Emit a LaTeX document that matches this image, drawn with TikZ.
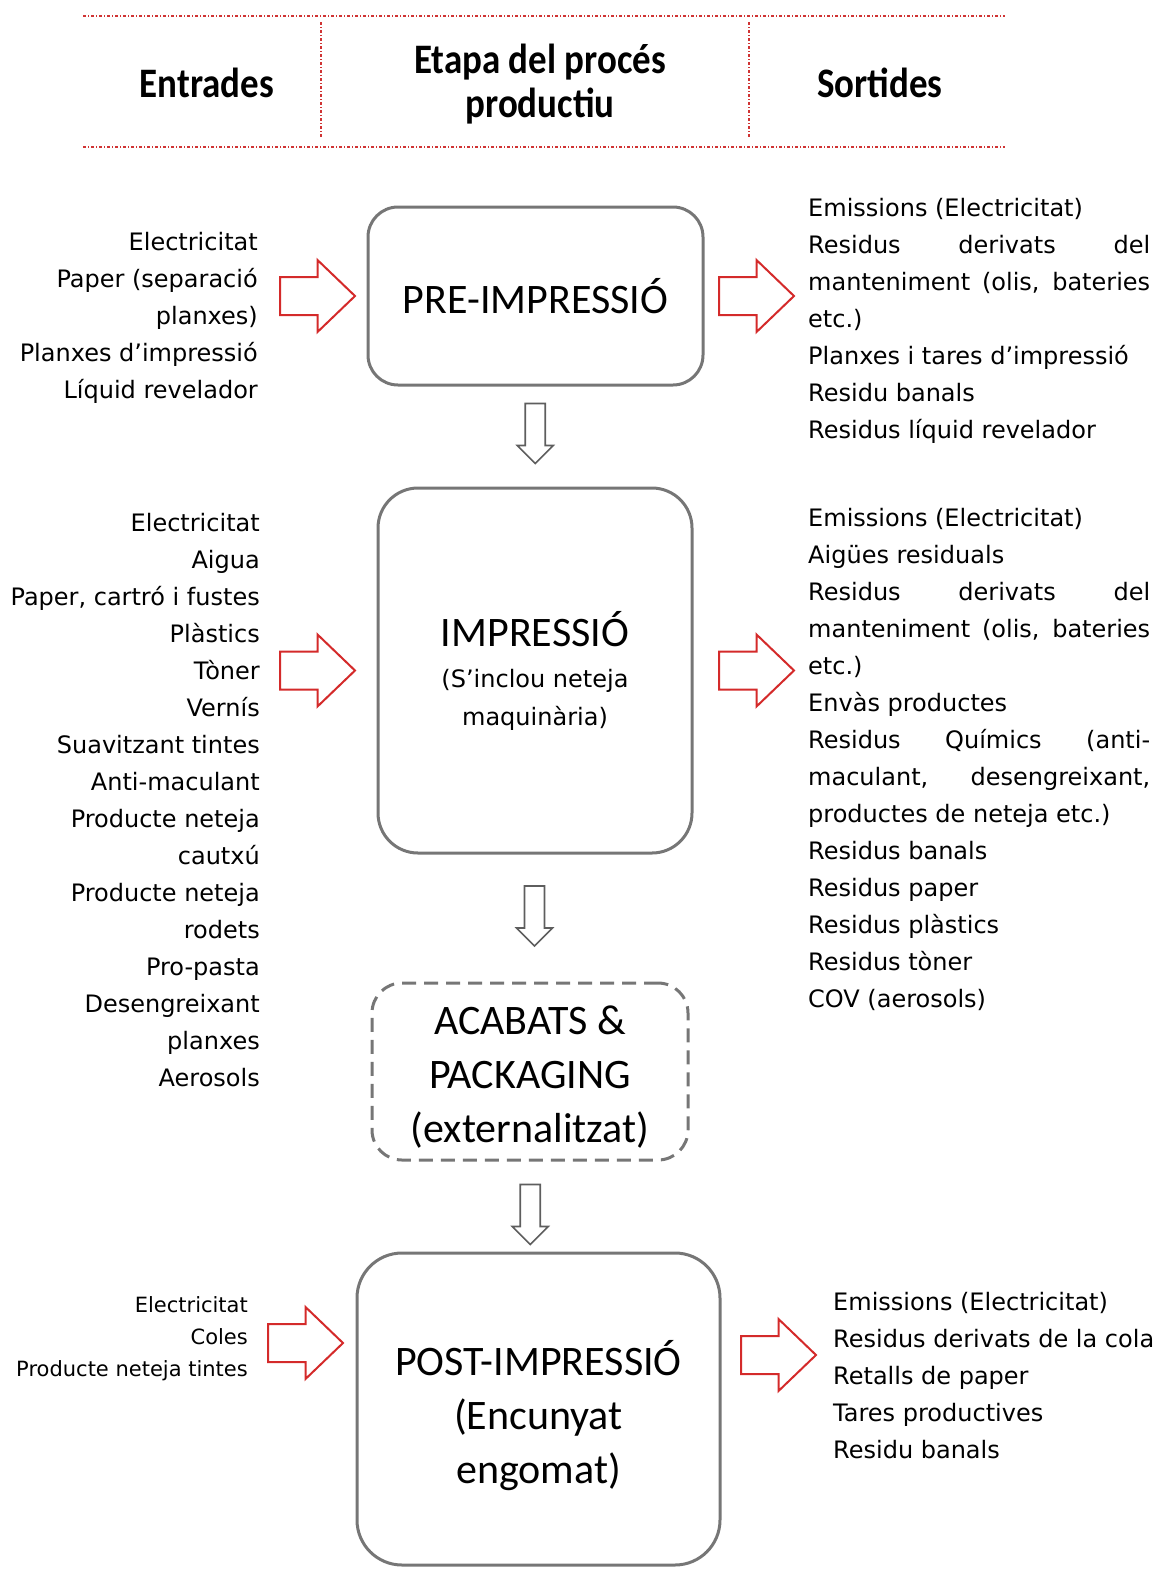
\documentclass[tikz,border=0pt]{standalone}
\usepackage{fontspec}
\setmainfont{Carlito}
\newfontfamily\listfont{DejaVu Sans}
\usetikzlibrary{calc}
\definecolor{boxgray}{HTML}{767676}
\definecolor{arrowred}{HTML}{D42A2A}
\definecolor{linered}{HTML}{D03434}
% justified line of the output lists
\newcommand{\js}[1]{\makebox[342pt][s]{#1}}
% header text, a bit narrow
\newcommand{\hd}[1]{\scalebox{0.88}[1]{#1}}
\newcommand{\sub}{\listfont\fontsize{24}{37}\selectfont}

\tikzset{
  stage/.style={draw=boxgray, line width=3pt, rounded corners=30pt,
    align=center, inner sep=0pt, font=\fontsize{42}{54}\selectfont},
  inlist/.style={anchor=north east, align=right, inner sep=0pt,
    font=\listfont\fontsize{24}{37}\selectfont},
  outlist/.style={anchor=north west, align=left, inner sep=0pt,
    font=\listfont\fontsize{24}{37}\selectfont},
  head/.style={align=center, inner sep=0pt, font=\bfseries\fontsize{42}{44}\selectfont},
  sepline/.style={linered, line width=1.5pt, dash pattern=on 3pt off 2pt on 1pt off 2pt},
  redarrow/.style={draw=arrowred, line width=2pt, fill=white},
  grayarrow/.style={draw=boxgray!80!black, line width=1.6pt, fill=white},
  rarrow/.pic={\draw[pic actions] (-37.5,-19) -- (0,-19) -- (0,-36) -- (37.5,0)
    -- (0,36) -- (0,19) -- (-37.5,19) -- cycle;},
  darrow/.pic={\draw[pic actions] (-10,-30) -- (10,-30) -- (10,12) -- (18,12)
    -- (0,30) -- (-18,12) -- (-10,12) -- cycle;}
}

\begin{document}
\begin{tikzpicture}[x=1pt, y=-1pt]
\useasboundingbox (0,0) rectangle (1157,1569);

% header
\draw[sepline] (83,16) -- (1005,16);
\draw[sepline] (83,147) -- (1005,147);
\draw[sepline] (321,22) -- (321,137);
\draw[sepline] (749,22) -- (749,137);
\node[head] (hdIn) at (207,83) {\hd{Entrades}};
\node[head] (hdStage) at (540,84) {\hd{Etapa del procés}\\\hd{productiu}};
\node[head] (hdOut) at (880,83) {\hd{Sortides}};

% stages
\node[stage, minimum width=335pt, minimum height=178pt] (pre) at (535.5,296) {PRE-IMPRESSIÓ};
\node[stage, minimum width=314pt, minimum height=365pt, rounded corners=40pt] (impr) at (535,670.5)
  {IMPRESSIÓ\\[-13pt]{\sub (S’inclou neteja}\\[-16pt]{\sub maquinària)}};
\node[stage, minimum width=316pt, minimum height=177pt, dash pattern=on 14pt off 8pt] (acab) at (530,1071.5)
  {\rule{0pt}{40pt}ACABATS \&\\PACKAGING\\(externalitzat)};
\node[stage, minimum width=363pt, minimum height=312pt, rounded corners=45pt] (post) at (538.5,1409)
  {\rule{0pt}{48pt}POST-IMPRESSIÓ\\(Encunyat\\engomat)};

% inputs
\node[inlist] (inA) at (258,232) {Electricitat\\Paper (separació\\planxes)\\Planxes d’impressió\\Líquid revelador};
\node[inlist] (inB) at (260,513) {Electricitat\\Aigua\\Paper, cartró i fustes\\Plàstics\\Tòner\\Vernís\\Suavitzant tintes\\Anti-maculant\\Producte neteja\\cautxú\\Producte neteja\\rodets\\Pro-pasta\\Desengreixant\\planxes\\Aerosols};
\node[inlist, font=\listfont\fontsize{21}{32}\selectfont] (inC) at (248,1296) {Electricitat\\Coles\\Producte neteja tintes};

% outputs
\node[outlist] (outA) at (808,198) {Emissions (Electricitat)\\\js{Residus derivats del}\\\js{manteniment (olis, bateries}\\etc.)\\Planxes i tares d’impressió\\Residu banals\\Residus líquid revelador};
\node[outlist] (outB) at (808,508) {Emissions (Electricitat)\\Aigües residuals\\\js{Residus derivats del}\\\js{manteniment (olis, bateries}\\etc.)\\Envàs productes\\\js{Residus Químics (anti-}\\\js{maculant, desengreixant,}\\productes de neteja etc.)\\Residus banals\\Residus paper\\Residus plàstics\\Residus tòner\\COV (aerosols)};
\node[outlist] (outC) at (833,1292) {Emissions (Electricitat)\\Residus derivats de la cola\\Retalls de paper\\Tares productives\\Residu banals};

% block arrows
\pic[redarrow] at ($(pre.west)+(-49,0)$) {rarrow};
\pic[redarrow] at ($(pre.east)+(52,0)$) {rarrow};
\pic[redarrow] at ($(impr.west)+(-59,0)$) {rarrow};
\pic[redarrow] at ($(impr.east)+(63,0)$) {rarrow};
\pic[redarrow] at ($(post.west)+(-50,-66)$) {rarrow};
\pic[redarrow] at ($(post.east)+(57,-54)$) {rarrow};
\pic[grayarrow] at ($(pre.south)!0.5!(impr.north)+(0,-3)$) {darrow};
\pic[grayarrow] at ($(impr.south)!0.5!(acab.north)+(2,-2)$) {darrow};
\pic[grayarrow] at ($(acab.south)!0.5!(post.north)+(-4,8)$) {darrow};
\end{tikzpicture}
\end{document}
